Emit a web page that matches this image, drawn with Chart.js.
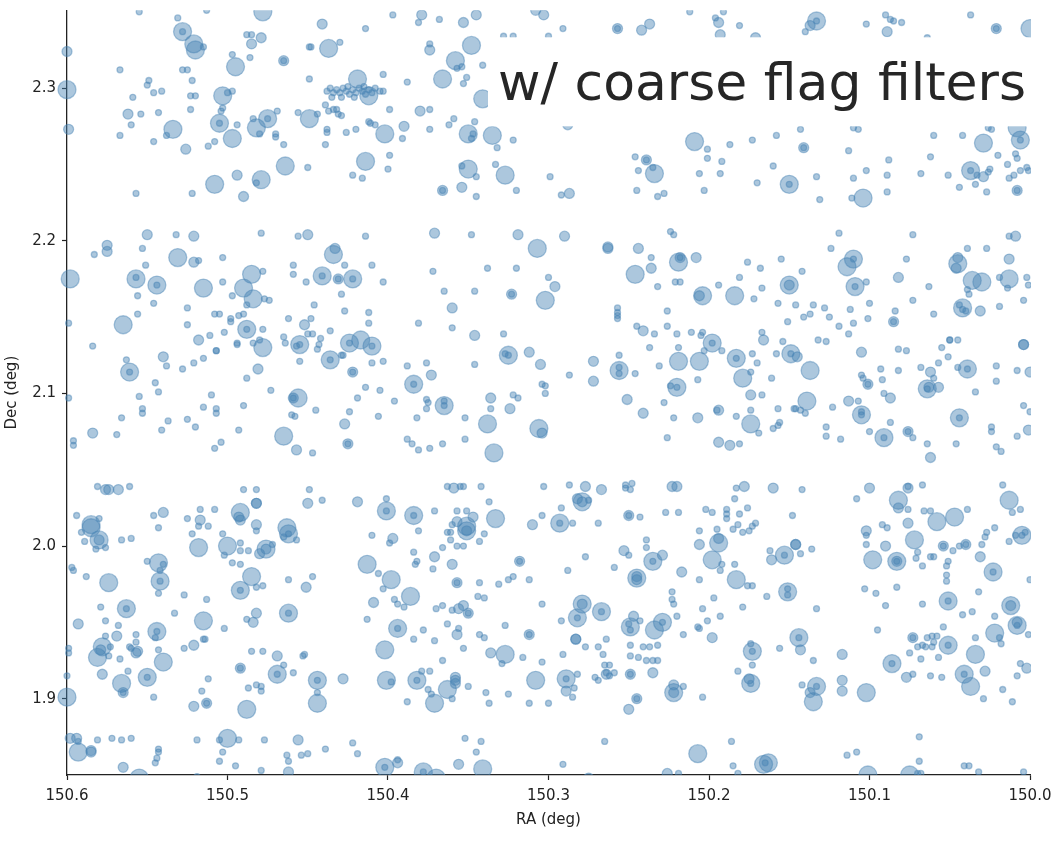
<!DOCTYPE html>
<html>
<head>
<meta charset="utf-8">
<script src="https://cdn.jsdelivr.net/npm/chart.js@4.4.1/dist/chart.umd.min.js"></script>
<style>
  html, body { margin: 0; padding: 0; background: #fff; }
  #wrap { width: 1056px; height: 843px; }
</style>
</head>
<body>
<div id="wrap"><canvas id="sky" width="1056" height="843"></canvas></div>
<script>
// sources: [RA deg, Dec deg, size class 1..3]
const srcNorth = [
  [150.555,2.350,1],[150.531,2.346,1],[150.528,2.337,3],[150.528,2.337,1],[150.513,2.351,1],[150.478,2.350,3],
  [150.521,2.329,3],[150.520,2.325,3],[150.515,2.327,1],[150.600,2.324,2],[150.488,2.335,1],[150.485,2.335,1],
  [150.485,2.329,2],[150.479,2.333,2],[150.497,2.322,1],[150.486,2.320,1],[150.465,2.318,2],[150.465,2.318,1],
  [150.495,2.314,3],[150.567,2.312,1],[150.528,2.312,1],[150.525,2.312,1],[150.449,2.327,1],[150.449,2.306,1],
  [150.600,2.299,3],[150.549,2.305,1],[150.550,2.302,1],[150.522,2.305,1],[150.559,2.294,1],[150.546,2.297,1],
  [150.541,2.298,1],[150.523,2.295,1],[150.520,2.295,1],[150.503,2.295,3],[150.500,2.297,1],[150.497,2.298,1],
  [150.523,2.286,1],[150.562,2.283,2],[150.554,2.283,1],[150.543,2.284,1],[150.503,2.287,1],[150.504,2.285,1],
  [150.449,2.280,3],[150.456,2.284,1],[150.469,2.285,1],[150.599,2.273,2],[150.560,2.276,1],[150.534,2.273,3],
  [150.505,2.277,3],[150.505,2.277,1],[150.494,2.276,1],[150.484,2.280,1],[150.475,2.280,3],[150.475,2.280,1],
  [150.482,2.274,3],[150.480,2.270,1],[150.470,2.270,1],[150.470,2.268,1],[150.567,2.269,1],[150.538,2.269,1],
  [150.546,2.265,1],[150.526,2.260,2],[150.512,2.262,1],[150.508,2.265,1],[150.497,2.267,3],[150.465,2.263,1],
  [150.464,2.249,3],[150.450,2.248,1],[150.494,2.243,2],[150.479,2.240,3],[150.482,2.238,1],[150.508,2.237,3],
  [150.557,2.231,1],[150.522,2.231,1],[150.490,2.229,2],[150.550,2.204,2],[150.532,2.204,1],[150.521,2.203,2],
  [150.479,2.205,1],[150.456,2.203,1],[150.450,2.204,2],[150.575,2.197,2],[150.575,2.193,2],[150.583,2.191,1],
  [150.553,2.195,1],[150.531,2.189,3],[150.521,2.186,2],[150.518,2.187,1],[150.503,2.189,1],[150.485,2.178,3],
  [150.459,2.184,1],[150.551,2.184,1],
  [150.441,2.342,2],[150.414,2.339,1],[150.397,2.348,1],[150.379,2.348,2],[150.381,2.343,1],[150.368,2.345,1],
  [150.353,2.343,2],[150.345,2.348,2],[150.328,2.334,1],[150.322,2.334,1],[150.300,2.334,1],[150.308,2.351,2],
  [150.303,2.348,2],[150.448,2.327,1],[150.437,2.326,3],[150.430,2.330,1],[150.374,2.329,1],[150.374,2.325,2],
  [150.348,2.328,3],[150.358,2.318,3],[150.357,2.313,1],[150.354,2.314,1],[150.341,2.315,1],[150.403,2.309,1],
  [150.388,2.304,1],[150.366,2.306,3],[150.351,2.307,1],[150.353,2.303,1],[150.341,2.293,3],[150.419,2.306,3],
  [150.412,2.295,3],
  [150.438,2.298,1],[150.436,2.300,1],[150.434,2.297,1],[150.432,2.299,1],[150.430,2.297,1],[150.428,2.300,1],
  [150.426,2.298,1],[150.424,2.296,1],[150.422,2.299,1],[150.420,2.297,1],[150.418,2.300,1],[150.416,2.298,1],
  [150.414,2.296,1],[150.412,2.299,1],[150.410,2.297,1],[150.408,2.300,1],[150.405,2.298,1],[150.435,2.294,1],
  [150.429,2.294,1],[150.421,2.294,1],[150.425,2.301,1],[150.415,2.301,1],[150.403,2.298,1],
  [150.439,2.289,1],[150.437,2.285,1],[150.434,2.286,1],[150.432,2.286,1],[150.431,2.283,1],[150.429,2.282,1],
  [150.444,2.283,1],[150.438,2.273,1],[150.438,2.271,1],[150.439,2.263,1],[150.426,2.271,1],[150.420,2.273,1],
  [150.412,2.278,1],[150.411,2.277,1],[150.408,2.276,1],[150.402,2.270,3],[150.399,2.286,1],[150.390,2.275,2],
  [150.391,2.267,1],[150.380,2.285,2],[150.374,2.286,1],[150.374,2.273,1],[150.362,2.276,1],[150.359,2.280,1],
  [150.350,2.270,3],[150.347,2.270,1],[150.348,2.267,1],[150.346,2.278,1],[150.335,2.269,3],[150.332,2.261,1],
  [150.322,2.266,1],[150.414,2.252,3],[150.399,2.256,1],[150.400,2.247,1],[150.422,2.243,1],[150.416,2.241,1],
  [150.350,2.247,3],[150.354,2.249,1],[150.345,2.242,1],[150.354,2.235,2],[150.366,2.233,2],[150.366,2.233,1],
  [150.345,2.229,1],[150.327,2.243,3],[150.333,2.250,1],[150.320,2.233,1],[150.299,2.242,1],[150.414,2.203,1],
  [150.371,2.205,2],[150.348,2.204,1],[150.319,2.204,2],[150.307,2.195,3],[150.434,2.191,3],[150.433,2.195,2],
  [150.427,2.184,1],[150.410,2.184,1],
  [150.291,2.339,1],[150.257,2.339,2],[150.257,2.339,1],[150.242,2.338,2],[150.237,2.342,2],[150.194,2.343,2],
  [150.196,2.346,1],[150.191,2.350,1],[150.181,2.341,1],[150.212,2.350,1],[150.193,2.335,2],[150.171,2.333,2],
  [150.288,2.276,2],[150.209,2.265,3],[150.239,2.253,2],[150.239,2.253,1],[150.234,2.244,3],[150.246,2.255,1],
  [150.244,2.246,1],[150.235,2.248,1],[150.201,2.260,1],[150.201,2.254,1],[150.192,2.252,1],[150.193,2.244,1],
  [150.206,2.244,1],[150.203,2.233,1],[150.187,2.263,1],[150.173,2.266,1],[150.158,2.269,1],[150.160,2.249,1],
  [150.170,2.238,1],[150.150,2.237,3],[150.150,2.237,1],[150.141,2.261,2],[150.141,2.261,1],[150.287,2.231,2],
  [150.292,2.230,1],[150.245,2.233,1],[150.232,2.229,1],[150.228,2.231,1],[150.290,2.203,2],[150.263,2.195,2],
  [150.263,2.196,2],[150.244,2.195,2],[150.236,2.189,1],[150.224,2.206,1],[150.222,2.204,1],[150.218,2.189,2],
  [150.218,2.189,1],[150.208,2.189,2],[150.176,2.186,1],[150.155,2.188,1],
  [150.133,2.344,3],[150.133,2.344,1],[150.137,2.341,2],[150.140,2.337,1],[150.102,2.342,1],[150.090,2.348,1],
  [150.087,2.345,1],[150.085,2.344,1],[150.080,2.343,1],[150.089,2.337,2],[150.064,2.333,1],[150.037,2.348,1],
  [150.021,2.339,2],[150.021,2.339,1],[150.000,2.339,3],[150.143,2.273,1],[150.110,2.274,1],[150.107,2.273,1],
  [150.113,2.259,1],[150.088,2.253,1],[150.102,2.246,1],[150.110,2.241,1],[150.089,2.243,1],[150.089,2.232,1],
  [150.104,2.228,3],[150.111,2.228,1],[150.133,2.242,1],[150.131,2.227,1],[150.060,2.269,1],[150.062,2.255,1],
  [150.068,2.244,1],[150.051,2.243,1],[150.042,2.269,1],[150.029,2.264,3],[150.037,2.246,3],[150.037,2.246,1],
  [150.033,2.243,1],[150.029,2.242,2],[150.026,2.245,1],[150.025,2.247,1],[150.034,2.237,1],[150.027,2.232,1],
  [150.044,2.235,1],[150.020,2.256,1],[150.014,2.250,1],[150.009,2.257,1],[150.008,2.254,1],[150.013,2.241,1],
  [150.010,2.243,1],[150.006,2.246,1],[150.002,2.248,1],[150.001,2.246,1],[150.008,2.233,2],[150.008,2.233,1],
  [150.006,2.266,3],[150.006,2.266,1],[150.008,2.274,3],[150.026,2.274,1],[150.024,2.273,1],[150.119,2.205,1],
  [150.124,2.195,1],[150.110,2.188,3],[150.110,2.188,1],[150.114,2.183,3],[150.073,2.204,1],[150.077,2.188,1],
  [150.045,2.185,3],[150.046,2.182,2],[150.045,2.189,2],[150.039,2.195,1],[150.027,2.195,1],[150.009,2.203,2],
  [150.013,2.203,1],[150.013,2.188,2]
];

const srcMid = [
  [150.598,2.175,3],[150.557,2.175,3],[150.557,2.176,1],[150.544,2.171,3],[150.544,2.171,1],[150.515,2.169,3],
  [150.503,2.173,1],[150.478,2.180,1],[150.490,2.169,3],[150.484,2.162,3],[150.497,2.164,1],[150.488,2.158,1],
  [150.477,2.162,1],[150.474,2.161,1],[150.556,2.164,1],[150.546,2.159,1],[150.459,2.178,1],[150.451,2.173,1],
  [150.599,2.146,1],[150.565,2.145,3],[150.556,2.152,1],[150.525,2.156,1],[150.525,2.145,1],[150.508,2.152,1],
  [150.505,2.152,1],[150.498,2.149,1],[150.498,2.147,1],[150.493,2.151,1],[150.490,2.152,1],[150.488,2.142,3],
  [150.488,2.142,1],[150.478,2.142,1],[150.502,2.140,1],[150.511,2.138,1],[150.518,2.135,2],[150.494,2.133,1],
  [150.494,2.132,1],[150.484,2.133,1],[150.480,2.135,1],[150.478,2.130,3],[150.462,2.149,1],[150.452,2.145,2],
  [150.465,2.137,1],[150.464,2.133,1],[150.455,2.132,3],[150.455,2.132,1],[150.457,2.131,1],[150.584,2.131,1],
  [150.507,2.128,1],[150.507,2.128,1],[150.540,2.124,2],[150.515,2.123,1],[150.521,2.120,1],[150.528,2.116,1],
  [150.538,2.118,1],[150.563,2.122,1],[150.561,2.114,3],[150.561,2.114,1],[150.481,2.116,2],[150.488,2.110,1],
  [150.455,2.121,1],[150.545,2.107,1],[150.543,2.101,1],[150.555,2.098,1],[150.599,2.097,1],[150.553,2.090,1],
  [150.553,2.087,1],[150.566,2.084,1],[150.510,2.099,1],[150.515,2.091,1],[150.507,2.090,1],[150.507,2.087,1],
  [150.490,2.092,1],[150.473,2.102,1],[150.456,2.097,3],[150.459,2.097,2],[150.459,2.097,1],[150.460,2.086,1],
  [150.458,2.085,1],[150.525,2.083,1],[150.520,2.078,1],[150.537,2.082,1],[150.541,2.076,1],[150.584,2.074,2],
  [150.569,2.073,1],[150.493,2.076,1],[150.465,2.072,3],[150.457,2.063,2],[150.596,2.069,1],[150.596,2.066,1],
  [150.504,2.068,1],[150.508,2.064,1],[150.581,2.039,1],[150.574,2.037,2],[150.576,2.037,2],[150.568,2.037,2],
  [150.561,2.039,1],[150.490,2.037,1],[150.482,2.037,1],[150.482,2.028,2],[150.482,2.028,2],[150.449,2.037,1],
  [150.450,2.028,2],[150.594,2.020,1],[150.580,2.018,1],[150.585,2.014,3],[150.540,2.022,2],[150.546,2.020,1],
  [150.525,2.018,1],[150.517,2.024,1],[150.508,2.024,1],[150.517,2.017,2],[150.492,2.022,3],[150.493,2.019,2],
  [150.492,2.017,2],[150.482,2.014,2],[150.463,2.012,3],
  [150.441,2.177,3],[150.441,2.177,1],[150.431,2.175,2],[150.431,2.175,1],[150.422,2.175,3],[150.422,2.175,1],
  [150.403,2.173,1],[150.372,2.180,1],[150.338,2.182,1],[150.320,2.182,1],[150.300,2.176,1],[150.365,2.167,1],
  [150.346,2.167,1],[150.323,2.165,2],[150.323,2.165,1],[150.302,2.161,3],[150.429,2.165,1],[150.446,2.158,1],
  [150.427,2.154,1],[150.412,2.153,1],[150.448,2.149,1],[150.412,2.146,1],[150.381,2.146,1],[150.360,2.156,2],
  [150.360,2.143,1],[150.436,2.141,1],[150.450,2.139,1],[150.447,2.139,1],[150.442,2.136,1],[150.443,2.132,1],
  [150.444,2.129,1],[150.424,2.133,3],[150.424,2.133,1],[150.417,2.135,3],[150.410,2.131,3],[150.410,2.131,1],
  [150.436,2.122,3],[150.436,2.122,1],[150.429,2.125,1],[150.428,2.125,1],[150.410,2.120,1],[150.403,2.121,1],
  [150.422,2.114,2],[150.422,2.114,1],[150.388,2.118,1],[150.376,2.120,1],[150.373,2.112,2],[150.384,2.106,3],
  [150.384,2.106,1],[150.346,2.138,2],[150.328,2.139,1],[150.325,2.125,3],[150.327,2.126,1],[150.325,2.125,1],
  [150.312,2.127,2],[150.305,2.119,2],[150.346,2.119,1],[150.414,2.104,1],[150.405,2.102,1],[150.419,2.097,1],
  [150.396,2.095,1],[150.376,2.096,1],[150.375,2.094,1],[150.376,2.090,1],[150.365,2.092,3],[150.365,2.095,1],
  [150.365,2.092,1],[150.336,2.097,2],[150.336,2.090,1],[150.322,2.099,1],[150.319,2.097,1],[150.324,2.090,2],
  [150.304,2.106,1],[150.302,2.105,1],[150.302,2.100,1],[150.445,2.089,1],[150.424,2.088,1],[150.406,2.085,1],
  [150.382,2.084,1],[150.352,2.084,1],[150.427,2.080,2],[150.338,2.080,3],[150.306,2.077,3],[150.304,2.074,2],
  [150.425,2.067,2],[150.425,2.067,1],[150.388,2.070,1],[150.385,2.067,1],[150.381,2.063,1],[150.374,2.064,1],
  [150.366,2.067,1],[150.352,2.070,1],[150.334,2.061,3],[150.447,2.061,1],[150.441,2.030,1],[150.419,2.029,2],
  [150.401,2.031,1],[150.401,2.023,3],[150.401,2.023,1],[150.384,2.020,3],[150.384,2.020,1],[150.371,2.023,1],
  [150.363,2.039,1],[150.359,2.038,2],[150.355,2.039,1],[150.353,2.039,1],[150.342,2.039,1],[150.357,2.023,1],
  [150.351,2.023,1],[150.347,2.019,2],[150.357,2.016,2],[150.351,2.013,3],[150.337,2.029,1],[150.333,2.018,3],
  [150.303,2.039,1],[150.304,2.020,1],[150.310,2.014,2],
  [150.296,2.170,2],[150.246,2.178,3],[150.236,2.182,2],[150.219,2.186,3],[150.232,2.170,1],[150.221,2.173,1],
  [150.218,2.173,1],[150.204,2.164,3],[150.206,2.164,2],[150.194,2.171,1],[150.184,2.164,3],[150.181,2.176,1],
  [150.168,2.182,1],[150.167,2.169,1],[150.172,2.162,1],[150.150,2.171,3],[150.150,2.171,2],[150.157,2.159,1],
  [150.146,2.158,1],[150.257,2.156,1],[150.257,2.153,1],[150.257,2.151,1],[150.257,2.149,1],[150.226,2.154,1],
  [150.151,2.147,1],[150.245,2.144,1],[150.241,2.141,2],[150.234,2.139,1],[150.226,2.144,1],[150.220,2.139,1],
  [150.211,2.140,1],[150.204,2.140,1],[150.205,2.138,1],[150.198,2.133,3],[150.198,2.133,1],[150.203,2.128,1],
  [150.192,2.128,1],[150.167,2.140,1],[150.166,2.135,2],[150.154,2.134,1],[150.237,2.130,1],[150.219,2.130,1],
  [150.256,2.125,1],[150.272,2.121,2],[150.219,2.121,3],[150.206,2.121,3],[150.183,2.123,3],[150.183,2.123,1],
  [150.173,2.126,1],[150.158,2.126,1],[150.149,2.126,3],[150.149,2.126,1],[150.145,2.124,2],[150.170,2.120,1],
  [150.256,2.115,3],[150.256,2.117,1],[150.256,2.113,1],[150.287,2.112,1],[150.272,2.108,2],[150.246,2.113,1],
  [150.231,2.118,1],[150.220,2.104,3],[150.224,2.105,1],[150.220,2.104,1],[150.207,2.109,1],[150.179,2.110,3],
  [150.174,2.114,1],[150.161,2.110,1],[150.251,2.096,2],[150.228,2.094,1],[150.241,2.087,2],[150.222,2.084,1],
  [150.207,2.084,2],[150.194,2.089,2],[150.195,2.089,1],[150.183,2.085,1],[150.174,2.099,2],[150.174,2.089,1],
  [150.167,2.099,1],[150.157,2.090,1],[150.147,2.090,1],[150.174,2.080,3],[150.156,2.081,1],[150.157,2.079,1],
  [150.160,2.077,1],[150.169,2.074,1],[150.226,2.071,1],[150.194,2.068,2],[150.187,2.066,2],[150.181,2.067,1],
  [150.287,2.040,1],[150.277,2.039,2],[150.267,2.037,2],[150.252,2.040,1],[150.252,2.038,1],[150.248,2.041,1],
  [150.249,2.037,1],[150.223,2.039,2],[150.220,2.039,2],[150.282,2.031,2],[150.279,2.029,3],[150.279,2.029,2],
  [150.275,2.030,1],[150.292,2.025,1],[150.293,2.015,3],[150.293,2.015,1],[150.285,2.015,1],[150.250,2.020,2],
  [150.250,2.020,1],[150.243,2.019,1],[150.227,2.022,1],[150.219,2.022,1],[150.202,2.024,1],[150.198,2.022,1],
  [150.189,2.024,1],[150.189,2.021,1],[150.189,2.018,1],[150.183,2.038,1],[150.178,2.039,2],[150.184,2.031,1],
  [150.176,2.025,1],[150.181,2.021,1],[150.160,2.038,2],[150.148,2.020,1],[150.269,2.015,1],[150.171,2.015,1],
  [150.142,2.180,1],[150.109,2.170,3],[150.109,2.170,1],[150.102,2.173,1],[150.082,2.176,2],[150.036,2.174,3],
  [150.030,2.173,3],[150.013,2.175,3],[150.019,2.176,1],[150.014,2.169,1],[150.002,2.176,1],[150.001,2.171,1],
  [150.004,2.161,1],[150.019,2.157,1],[150.039,2.168,1],[150.038,2.165,1],[150.042,2.156,3],[150.044,2.158,1],
  [150.042,2.155,1],[150.040,2.154,1],[150.031,2.154,2],[150.063,2.170,1],[150.073,2.161,1],[150.060,2.152,1],
  [150.100,2.159,1],[150.135,2.158,1],[150.137,2.152,1],[150.141,2.150,1],[150.128,2.156,1],[150.125,2.150,1],
  [150.112,2.155,1],[150.110,2.146,1],[150.119,2.144,1],[150.113,2.139,1],[150.101,2.149,1],[150.085,2.147,2],
  [150.085,2.147,1],[150.084,2.154,1],[150.132,2.135,1],[150.127,2.134,1],[150.137,2.115,3],[150.105,2.127,2],
  [150.082,2.129,1],[150.077,2.128,1],[150.050,2.135,1],[150.050,2.135,1],[150.045,2.135,1],[150.055,2.130,1],
  [150.051,2.124,1],[150.004,2.132,2],[150.004,2.132,2],[150.093,2.116,1],[150.082,2.115,1],[150.105,2.112,1],
  [150.104,2.110,1],[150.092,2.109,1],[150.101,2.106,2],[150.101,2.106,1],[150.068,2.117,1],[150.057,2.120,1],
  [150.062,2.114,2],[150.064,2.103,3],[150.063,2.104,2],[150.064,2.103,1],[150.057,2.104,2],[150.060,2.110,1],
  [150.039,2.116,3],[150.039,2.116,1],[150.045,2.117,1],[150.021,2.118,1],[150.021,2.108,1],[150.008,2.115,1],
  [150.000,2.114,2],[150.034,2.101,1],[150.091,2.100,1],[150.087,2.097,2],[150.139,2.095,3],[150.113,2.095,2],
  [150.107,2.095,1],[150.146,2.090,1],[150.143,2.089,1],[150.140,2.087,1],[150.123,2.091,1],[150.105,2.086,3],
  [150.105,2.088,1],[150.105,2.086,1],[150.087,2.081,1],[150.127,2.078,1],[150.127,2.072,1],[150.118,2.070,1],
  [150.100,2.075,1],[150.091,2.071,3],[150.091,2.071,1],[150.076,2.075,2],[150.076,2.075,1],[150.073,2.071,1],
  [150.044,2.084,3],[150.044,2.084,1],[150.024,2.078,1],[150.024,2.075,1],[150.004,2.092,1],[150.000,2.088,1],
  [150.001,2.076,2],[150.008,2.072,1],[150.064,2.067,1],[150.046,2.067,1],[150.021,2.065,1],[150.018,2.062,1],
  [150.062,2.058,2],[150.142,2.037,1],[150.100,2.038,2],[150.108,2.031,1],[150.076,2.038,2],[150.076,2.039,1],
  [150.067,2.040,1],[150.082,2.030,3],[150.082,2.025,2],[150.076,2.024,1],[150.066,2.023,1],[150.062,2.023,1],
  [150.058,2.016,3],[150.047,2.019,3],[150.039,2.024,1],[150.017,2.040,1],[150.013,2.030,3],[150.011,2.022,1],
  [150.006,2.024,1],[150.076,2.015,2]
];

const srcSouth = [
  [150.585,2.012,3],[150.580,2.004,3],[150.580,2.004,2],[150.591,2.009,1],[150.589,2.003,1],[150.582,1.998,1],
  [150.576,1.999,1],[150.566,2.004,1],[150.560,2.005,1],[150.543,2.012,1],[150.522,2.008,1],[150.518,2.013,1],
  [150.512,2.013,1],[150.518,1.999,3],[150.503,2.008,1],[150.500,2.000,3],[150.502,1.994,1],[150.492,2.002,1],
  [150.492,1.997,1],[150.487,1.997,1],[150.482,2.010,1],[150.476,1.998,3],[150.476,1.998,2],[150.480,1.995,2],
  [150.472,2.001,1],[150.462,2.008,3],[150.462,2.008,1],[150.465,2.006,1],[150.457,2.004,1],[150.497,1.989,1],
  [150.492,1.988,1],[150.485,1.980,3],[150.492,1.971,3],[150.492,1.971,1],[150.482,1.973,1],[150.478,1.974,1],
  [150.462,1.978,1],[150.451,1.973,2],[150.597,1.986,1],[150.596,1.984,1],[150.588,1.980,1],[150.574,1.976,3],
  [150.550,1.990,1],[150.543,1.989,3],[150.540,1.988,1],[150.542,1.984,1],[150.542,1.977,3],[150.542,1.977,1],
  [150.543,1.969,1],[150.527,1.968,1],[150.513,1.965,1],[150.563,1.959,3],[150.563,1.959,1],[150.579,1.960,1],
  [150.576,1.951,1],[150.593,1.949,2],[150.568,1.948,1],[150.569,1.941,2],[150.576,1.941,1],[150.544,1.944,3],
  [150.544,1.944,1],[150.545,1.940,1],[150.533,1.956,1],[150.515,1.951,3],[150.502,1.946,1],[150.515,1.939,1],
  [150.514,1.939,1],[150.521,1.935,2],[150.527,1.933,1],[150.484,1.950,2],[150.482,1.956,2],[150.488,1.952,1],
  [150.462,1.956,3],[150.462,1.956,1],[150.578,1.934,3],[150.581,1.927,3],[150.579,1.932,2],[150.573,1.934,1],
  [150.574,1.928,1],[150.557,1.942,1],[150.557,1.937,1],[150.561,1.934,1],[150.560,1.933,1],[150.557,1.930,2],
  [150.556,1.931,2],[150.567,1.926,1],[150.540,1.924,3],[150.543,1.932,1],[150.599,1.933,1],[150.599,1.930,1],
  [150.578,1.916,2],[150.562,1.918,1],[150.566,1.910,3],[150.565,1.904,2],[150.565,1.904,1],[150.550,1.914,3],
  [150.550,1.914,1],[150.546,1.901,1],[150.600,1.915,1],[150.600,1.901,3],[150.512,1.913,1],[150.516,1.905,1],
  [150.513,1.897,2],[150.513,1.897,1],[150.521,1.895,2],[150.492,1.920,2],[150.492,1.920,1],[150.485,1.931,1],
  [150.478,1.931,1],[150.469,1.928,2],[150.465,1.922,1],[150.453,1.928,1],[150.459,1.917,1],[150.469,1.916,3],
  [150.469,1.916,1],[150.482,1.909,1],[150.479,1.908,1],[150.479,1.905,1],[150.487,1.907,1],[150.488,1.893,3],
  [150.598,1.874,2],[150.594,1.874,2],[150.593,1.872,1],[150.581,1.873,1],[150.572,1.874,1],[150.566,1.873,1],
  [150.560,1.874,1],[150.593,1.865,3],[150.585,1.865,2],[150.585,1.866,2],[150.565,1.855,2],[150.555,1.848,3],
  [150.543,1.867,1],[150.543,1.865,1],[150.544,1.861,1],[150.545,1.858,1],[150.519,1.873,1],[150.519,1.849,1],
  [150.505,1.873,1],[150.500,1.874,3],[150.493,1.873,1],[150.503,1.865,1],[150.505,1.859,1],[150.495,1.856,1],
  [150.477,1.873,1],[150.479,1.853,1],[150.462,1.852,2],[150.456,1.873,2],[150.463,1.863,1],[150.462,1.859,1],
  [150.454,1.863,1],[150.450,1.864,1],
  [150.410,2.007,1],[150.399,2.002,1],[150.397,2.005,2],[150.381,2.010,1],[150.360,2.014,1],[150.363,2.009,1],
  [150.361,2.009,1],[150.361,2.004,1],[150.351,2.010,3],[150.351,2.010,2],[150.340,2.008,1],[150.343,2.003,1],
  [150.357,2.000,1],[150.353,2.000,1],[150.366,1.999,1],[150.384,1.996,1],[150.382,1.990,1],[150.383,1.988,1],
  [150.371,1.993,2],[150.372,1.985,1],[150.360,1.988,2],[150.413,1.988,3],[150.406,1.982,1],[150.398,1.978,3],
  [150.403,1.972,1],[150.447,1.980,1],[150.386,1.967,3],[150.409,1.963,2],[150.396,1.965,1],[150.394,1.962,1],
  [150.390,1.960,1],[150.413,1.952,1],[150.394,1.946,3],[150.394,1.946,1],[150.378,1.945,1],[150.384,1.939,1],
  [150.371,1.938,1],[150.363,1.949,1],[150.357,1.942,2],[150.356,1.946,1],[150.353,1.933,1],[150.357,1.976,2],
  [150.357,1.976,1],[150.370,1.959,1],[150.366,1.961,1],[150.360,1.958,1],[150.356,1.959,2],[150.353,1.961,2],
  [150.350,1.956,2],[150.350,1.956,1],[150.343,1.976,1],[150.344,1.967,1],[150.340,1.966,1],[150.331,1.975,1],
  [150.325,1.978,1],[150.322,1.980,1],[150.318,1.990,2],[150.318,1.990,1],[150.312,1.978,1],[150.304,1.962,1],
  [150.327,1.948,1],[150.343,1.942,1],[150.340,1.940,1],[150.312,1.942,2],[150.312,1.942,1],[150.336,1.930,2],
  [150.327,1.929,3],[150.329,1.923,1],[150.316,1.927,1],[150.304,1.924,1],[150.402,1.932,3],[150.366,1.925,1],
  [150.444,1.912,3],[150.444,1.912,1],[150.444,1.904,1],[150.444,1.897,3],[150.428,1.913,2],[150.401,1.912,3],
  [150.398,1.911,1],[150.382,1.912,3],[150.382,1.912,1],[150.379,1.918,1],[150.374,1.918,1],[150.363,1.906,3],
  [150.358,1.914,2],[150.358,1.912,2],[150.358,1.910,2],[150.371,1.897,3],[150.375,1.906,1],[150.373,1.903,1],
  [150.360,1.900,1],[150.388,1.898,1],[150.350,1.908,1],[150.339,1.904,1],[150.337,1.897,1],[150.325,1.903,1],
  [150.308,1.912,3],[150.312,1.897,1],[150.300,1.897,1],[150.452,1.929,1],[150.439,1.867,1],[150.422,1.871,1],
  [150.419,1.864,1],[150.402,1.855,3],[150.402,1.855,1],[150.394,1.858,2],[150.394,1.860,1],[150.378,1.852,3],
  [150.378,1.852,1],[150.370,1.848,3],[150.356,1.857,2],[150.341,1.854,3],[150.352,1.874,1],[150.342,1.872,1],
  [150.345,1.865,1],
  [150.239,2.004,1],[150.239,1.999,1],[150.253,1.997,2],[150.250,1.994,1],[150.235,1.990,3],[150.235,1.990,1],
  [150.229,1.994,2],[150.277,1.993,1],[150.288,1.984,1],[150.259,1.986,1],[150.245,1.979,3],[150.245,1.980,2],
  [150.245,1.978,2],[150.217,1.983,2],[150.206,1.978,1],[150.206,2.010,1],[150.206,2.001,2],[150.194,2.002,3],
  [150.194,2.005,2],[150.198,1.991,3],[150.192,1.988,1],[150.193,1.984,1],[150.195,2.011,1],[150.185,2.011,1],
  [150.182,2.014,1],[150.179,2.009,1],[150.175,2.010,1],[150.173,2.013,1],[150.184,1.988,1],[150.183,1.978,3],
  [150.176,1.974,1],[150.173,1.974,1],[150.162,1.997,1],[150.161,1.991,2],[150.153,1.994,3],[150.153,1.994,1],
  [150.146,2.001,2],[150.146,2.001,2],[150.151,1.970,3],[150.151,1.972,1],[150.151,1.968,1],[150.164,1.967,1],
  [150.179,1.960,1],[150.223,1.970,1],[150.223,1.965,1],[150.222,1.962,1],[150.204,1.959,1],[150.197,1.966,1],
  [150.193,1.954,1],[150.201,1.951,1],[150.206,1.946,1],[150.207,1.947,1],[150.198,1.940,2],[150.220,1.954,1],
  [150.216,1.942,1],[150.279,1.962,3],[150.279,1.962,2],[150.282,1.953,3],[150.282,1.953,1],[150.267,1.957,3],
  [150.267,1.957,1],[150.292,1.951,1],[150.247,1.954,2],[150.243,1.951,1],[150.249,1.947,3],[150.250,1.949,1],
  [150.249,1.945,1],[150.234,1.945,3],[150.229,1.950,3],[150.229,1.950,1],[150.283,1.939,2],[150.283,1.939,2],
  [150.277,1.934,1],[150.264,1.939,1],[150.269,1.934,1],[150.266,1.929,1],[150.291,1.929,1],[150.249,1.935,1],
  [150.249,1.928,1],[150.244,1.927,1],[150.241,1.934,1],[150.237,1.934,1],[150.232,1.935,1],[150.239,1.925,1],
  [150.235,1.925,1],[150.232,1.925,1],[150.265,1.922,1],[150.262,1.922,1],[150.264,1.916,2],[150.264,1.917,1],
  [150.262,1.915,1],[150.259,1.917,1],[150.271,1.914,1],[150.269,1.912,1],[150.249,1.916,2],[150.249,1.916,1],
  [150.235,1.917,2],[150.289,1.913,3],[150.289,1.913,1],[150.282,1.916,1],[150.289,1.905,2],[150.284,1.907,1],
  [150.285,1.901,1],[150.222,1.904,3],[150.222,1.904,2],[150.222,1.909,2],[150.216,1.908,1],[150.245,1.900,2],
  [150.245,1.900,1],[150.250,1.893,2],[150.204,1.901,1],[150.173,1.931,3],[150.173,1.931,1],[150.174,1.936,1],
  [150.173,1.922,1],[150.156,1.933,1],[150.182,1.918,1],[150.174,1.910,3],[150.174,1.910,1],[150.175,1.913,2],
  [150.265,1.872,1],[150.291,1.857,1],[150.207,1.864,3],[150.186,1.872,1],[150.163,1.858,3],[150.166,1.857,3],
  [150.165,1.858,1],[150.185,1.856,1],[150.182,1.851,1],[150.226,1.851,2],[150.219,1.851,1],[150.275,1.848,2],
  [150.136,1.998,1],[150.143,1.995,1],[150.102,2.010,2],[150.102,2.007,1],[150.092,2.014,1],[150.089,2.012,1],
  [150.072,2.004,3],[150.102,2.001,1],[150.090,2.000,2],[150.098,1.991,3],[150.083,1.990,3],[150.083,1.990,2],
  [150.083,1.990,1],[150.070,1.996,1],[150.071,1.992,1],[150.067,1.987,1],[150.062,1.993,1],[150.060,1.993,1],
  [150.054,2.000,2],[150.054,2.000,1],[150.048,1.997,1],[150.044,2.000,1],[150.040,2.001,2],[150.040,2.001,1],
  [150.051,1.990,1],[150.052,1.987,1],[150.052,1.981,1],[150.052,1.977,1],[150.030,2.001,1],[150.031,1.993,2],
  [150.028,2.006,1],[150.027,2.009,1],[150.022,2.012,1],[150.023,1.983,3],[150.023,1.983,1],[150.013,2.003,1],
  [150.005,2.007,3],[150.005,2.007,1],[150.009,2.007,1],[150.003,2.009,1],[150.000,1.978,1],[150.103,1.972,1],
  [150.096,1.969,1],[150.083,1.973,1],[150.032,1.970,1],[150.133,1.959,1],[150.090,1.961,1],[150.067,1.962,1],
  [150.051,1.964,3],[150.051,1.964,1],[150.042,1.955,1],[150.036,1.957,1],[150.022,1.954,1],[150.012,1.961,3],
  [150.012,1.961,2],[150.008,1.948,3],[150.008,1.950,2],[150.008,1.948,1],[150.001,1.942,1],[150.022,1.943,3],
  [150.019,1.940,1],[150.018,1.936,1],[150.034,1.940,1],[150.144,1.940,3],[150.144,1.940,1],[150.143,1.932,2],
  [150.095,1.945,1],[150.054,1.947,1],[150.073,1.940,2],[150.073,1.940,1],[150.064,1.940,1],[150.061,1.941,1],
  [150.058,1.941,1],[150.070,1.934,1],[150.067,1.935,1],[150.065,1.934,1],[150.061,1.934,1],[150.060,1.937,1],
  [150.051,1.935,3],[150.051,1.935,1],[150.075,1.930,1],[150.068,1.926,1],[150.057,1.927,1],[150.034,1.929,3],
  [150.028,1.918,2],[150.041,1.916,3],[150.041,1.916,1],[150.037,1.908,3],[150.086,1.923,3],[150.086,1.923,1],
  [150.077,1.914,2],[150.073,1.916,1],[150.062,1.915,1],[150.055,1.914,1],[150.117,1.929,2],[150.135,1.925,1],
  [150.117,1.912,2],[150.117,1.905,2],[150.102,1.904,3],[150.142,1.909,1],[150.133,1.908,3],[150.133,1.908,1],
  [150.137,1.904,2],[150.135,1.898,3],[150.029,1.900,1],[150.017,1.906,1],[150.011,1.898,1],[150.006,1.923,1],
  [150.008,1.915,1],[150.002,1.920,2],[150.069,1.875,1],[150.114,1.863,1],[150.108,1.865,1],[150.069,1.859,1],
  [150.101,1.850,3],[150.075,1.850,3],[150.070,1.851,1],[150.068,1.851,1],[150.041,1.856,1],[150.038,1.856,1],
  [150.032,1.852,1],[150.004,1.852,1]
];

const raTicks = [150.6, 150.5, 150.4, 150.3, 150.2, 150.1, 150.0];
const decTicks = [1.9, 2.0, 2.1, 2.2, 2.3];
const panelLabel = 'w/ coarse flag filters';

// marker radius (px) per size class
const sizeRadius = { 1: 3, 2: 5, 3: 9 };

Chart.defaults.font.family = '"DejaVu Sans", sans-serif';
Chart.defaults.color = '#222';

function toBubbles(list) {
  return list.map(([ra, dec, s]) => ({ x: ra, y: dec, r: sizeRadius[s] }));
}

const markStyle = {
  backgroundColor: 'rgba(70,130,180,0.45)',
  borderColor: 'rgba(70,130,180,0.45)',
  borderWidth: 1.3,
  hoverRadius: 0,
  clip: { left: 14, top: 0, right: 1, bottom: 0 }
};

// white label box in the upper right corner
const labelBox = {
  id: 'labelBox',
  afterDatasetsDraw(chart) {
    const { ctx, chartArea } = chart;
    const boxW = 544, boxH = 89;
    const x0 = chartArea.right - boxW + 2;
    const y0 = chartArea.top + 27;
    ctx.save();
    ctx.fillStyle = '#fff';
    ctx.fillRect(x0, y0, boxW, boxH);
    ctx.fillStyle = '#262626';
    ctx.font = '52px "DejaVu Sans", sans-serif';
    ctx.textBaseline = 'alphabetic';
    ctx.textAlign = 'left';
    ctx.fillText(panelLabel, x0 + 10, y0 + 63);
    ctx.restore();
  }
};

const axisGrid = { drawOnChartArea: false, drawTicks: true, tickLength: 5, tickWidth: 1.2, tickColor: '#222' };
const axisBorder = { color: '#222', width: 1.3 };

new Chart(document.getElementById('sky').getContext('2d'), {
  type: 'bubble',
  data: {
    datasets: [
      Object.assign({ label: 'north', data: toBubbles(srcNorth) }, markStyle),
      Object.assign({ label: 'mid', data: toBubbles(srcMid) }, markStyle),
      Object.assign({ label: 'south', data: toBubbles(srcSouth) }, markStyle)
    ]
  },
  options: {
    responsive: false,
    animation: false,
    events: [],
    devicePixelRatio: 1,
    layout: { padding: { top: 8, right: 26, left: 0, bottom: 0 } },
    plugins: { legend: { display: false }, tooltip: { enabled: false } },
    scales: {
      x: {
        type: 'linear',
        reverse: true,
        min: 150.0,
        max: 150.6,
        afterBuildTicks: s => { s.ticks = raTicks.map(v => ({ value: v })); },
        afterFit: s => { s.height = 68; s.paddingLeft = 0; s.paddingRight = 0; },
        grid: axisGrid,
        border: axisBorder,
        ticks: {
          font: { size: 15 }, padding: 7, maxRotation: 0, autoSkip: false,
          callback: v => Number(v).toFixed(1)
        },
        title: { display: true, text: 'RA (deg)', font: { size: 15 }, padding: { bottom: 14 } }
      },
      y: {
        type: 'linear',
        min: 1.85,
        max: 2.351,
        afterBuildTicks: s => { s.ticks = decTicks.map(v => ({ value: v })); },
        afterFit: s => { s.width = 67; s.paddingTop = 0; s.paddingBottom = 0; },
        grid: axisGrid,
        border: axisBorder,
        ticks: {
          font: { size: 15 }, padding: 6, autoSkip: false,
          callback: v => Number(v).toFixed(1)
        },
        title: { display: true, text: 'Dec (deg)', font: { size: 15 }, padding: { top: 3 } }
      }
    }
  },
  plugins: [labelBox]
});
</script>
</body>
</html>
